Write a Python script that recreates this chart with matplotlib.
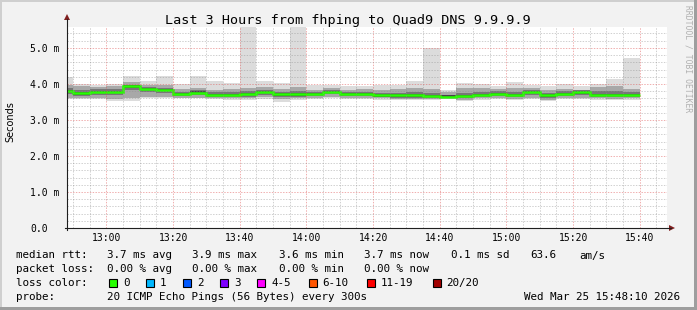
import matplotlib
matplotlib.use('Agg')
import matplotlib.pyplot as plt
import numpy as np
import pandas as pd
from matplotlib.patches import Rectangle, Polygon
from matplotlib.lines import Line2D

# ---------------- data ----------------
bin_end = pd.date_range('2026-03-25 12:50', periods=35, freq='5min')
median = [3.81, 3.74, 3.78, 3.78, 3.93, 3.86, 3.83, 3.72, 3.76, 3.70, 3.70, 3.72, 3.78, 3.71, 3.71, 3.72, 3.78,
          3.72, 3.72, 3.68, 3.68, 3.68, 3.67, 3.65, 3.67, 3.70, 3.73, 3.70, 3.78, 3.68, 3.73, 3.77, 3.70, 3.70, 3.70]
ping_max = [4.20, 4.00, 3.97, 4.00, 4.22, 4.08, 4.21, 4.00, 4.22, 4.08, 4.02, 5.58, 4.08, 4.02, 5.58, 3.97, 3.97,
            3.93, 3.93, 3.97, 3.96, 4.07, 5.01, 3.83, 4.02, 4.00, 3.93, 4.04, 3.97, 3.93, 4.00, 3.94, 4.00, 4.14, 4.73]
ping_min = [3.57, 3.57, 3.57, 3.53, 3.53, 3.60, 3.60, 3.60, 3.60, 3.57, 3.56, 3.56, 3.58, 3.51, 3.56, 3.58, 3.60,
            3.58, 3.58, 3.56, 3.54, 3.54, 3.55, 3.57, 3.52, 3.55, 3.58, 3.55, 3.58, 3.52, 3.58, 3.57, 3.56, 3.54, 3.56]
band2_hi = [3.98, 3.94, 3.92, 3.95, 4.04, 3.98, 3.97, 3.85, 3.90, 3.84, 3.85, 3.90, 3.92, 3.85, 3.92, 3.84, 3.88,
            3.84, 3.85, 3.82, 3.85, 3.90, 3.86, 3.78, 3.88, 3.90, 3.86, 3.90, 3.88, 3.82, 3.85, 3.84, 3.92, 3.93, 3.86]
band2_lo = [3.62, 3.60, 3.62, 3.58, 3.60, 3.65, 3.64, 3.62, 3.62, 3.60, 3.60, 3.60, 3.64, 3.58, 3.60, 3.62, 3.64,
            3.62, 3.62, 3.60, 3.58, 3.58, 3.58, 3.60, 3.56, 3.60, 3.62, 3.58, 3.62, 3.56, 3.62, 3.62, 3.60, 3.58, 3.60]
band3_hi = [3.88, 3.82, 3.85, 3.86, 3.98, 3.92, 3.90, 3.78, 3.83, 3.77, 3.78, 3.80, 3.84, 3.78, 3.80, 3.78, 3.83,
            3.78, 3.78, 3.75, 3.76, 3.78, 3.74, 3.70, 3.76, 3.78, 3.79, 3.78, 3.84, 3.74, 3.80, 3.82, 3.79, 3.80, 3.78]
band3_lo = [3.72, 3.67, 3.70, 3.68, 3.82, 3.78, 3.75, 3.66, 3.69, 3.64, 3.64, 3.65, 3.70, 3.64, 3.64, 3.66, 3.71,
            3.66, 3.66, 3.63, 3.62, 3.62, 3.61, 3.62, 3.61, 3.64, 3.67, 3.63, 3.70, 3.62, 3.67, 3.70, 3.64, 3.64, 3.64]
band4_hi = [3.84, 3.77, 3.81, 3.81, 3.96, 3.89, 3.86, 3.75, 3.79, 3.73, 3.73, 3.75, 3.81, 3.74, 3.74, 3.75, 3.81,
            3.75, 3.75, 3.71, 3.71, 3.71, 3.70, 3.68, 3.70, 3.73, 3.76, 3.73, 3.81, 3.71, 3.76, 3.80, 3.73, 3.73, 3.73]
band4_lo = [3.77, 3.70, 3.74, 3.74, 3.88, 3.82, 3.79, 3.68, 3.72, 3.66, 3.66, 3.68, 3.74, 3.67, 3.67, 3.68, 3.74,
            3.68, 3.68, 3.64, 3.64, 3.64, 3.63, 3.61, 3.63, 3.66, 3.69, 3.66, 3.74, 3.64, 3.69, 3.73, 3.66, 3.66, 3.66]

y_ticks = [0, 1, 2, 3, 4, 5]
y_tick_labels = ['0.0', '1.0 m', '2.0 m', '3.0 m', '4.0 m', '5.0 m']
x_tick_labels = ['13:00', '13:20', '13:40', '14:00', '14:20', '14:40', '15:00', '15:20', '15:40']

title = 'Last 3 Hours from fhping to Quad9 DNS 9.9.9.9'
rtt_line = ['median rtt:', '3.7 ms avg', '3.9 ms max', '3.6 ms min', '3.7 ms now', '0.1 ms sd', '63.6', 'am/s']
loss_line = ['packet loss:', '0.00 % avg', '0.00 % max', '0.00 % min', '0.00 % now']
loss_labels = ['0', '1', '2', '3', '4-5', '6-10', '11-19', '20/20']
loss_colors = ['#26ff00', '#00b8ff', '#0059ff', '#7e00ff', '#ff00ff', '#ff5500', '#ff0000', '#a10000']
probe_text = '20 ICMP Echo Pings (56 Bytes) every 300s'
stamp = 'Wed Mar 25 15:48:10 2026'

# ---------------- figure ----------------
W, H = 697, 310
fig = plt.figure(figsize=(W / 100, H / 100), dpi=100, facecolor='#f2f2f2')
MONO = 'DejaVu Sans Mono'

def fx(px):
    return px / W

def fy(py):
    return 1 - py / H

# frame shading
fig.add_artist(Rectangle((0, fy(2)), 1, 2 / H, transform=fig.transFigure, color='#cfcfcf', lw=0))
fig.add_artist(Rectangle((0, 0), 2 / W, 1, transform=fig.transFigure, color='#cfcfcf', lw=0))
fig.add_artist(Rectangle((0, 0), 1, 3 / H, transform=fig.transFigure, color='#9e9e9e', lw=0))
fig.add_artist(Rectangle((fx(W - 3), 0), 3 / W, 1, transform=fig.transFigure, color='#9e9e9e', lw=0))

L, R, T, B = 67, 667, 27, 228
ax = fig.add_axes([fx(L), fy(B), (R - L) / W, (B - T) / H])
ax.set_facecolor('white')
for s in ax.spines.values():
    s.set_visible(False)
ax.set_xticks([])
ax.set_yticks([])

t_end = 15 * 60 + 48 + 10 / 60
t_start = t_end - 180
ax.set_xlim(t_start, t_end)
ax.set_ylim(0, 5.58)

ends = np.array(bin_end.hour * 60 + bin_end.minute, dtype=float)
starts = ends - 5

layers = [(ping_min, ping_max, '#dcdcdc'), (band2_lo, band2_hi, '#a8a8a8'),
          (band3_lo, band3_hi, '#777777'), (band4_lo, band4_hi, '#454545')]
for lo, hi, c in layers:
    lo = np.array(lo)
    hi = np.array(hi)
    ax.bar(starts, hi - lo, width=5, bottom=lo, align='edge', color=c, lw=0, zorder=2)

edges = np.append(starts, ends[-1])
ax.stairs(median, edges, baseline=None, color='#26ff00', lw=1.8, zorder=3)

# grid (drawn over data, like rrdtool)
gcol = (0.56, 0.56, 0.56, 0.42)
mcol = (0.87, 0.31, 0.31, 0.45)
dash = (0, (1.4, 1.4))
for m in np.arange(770, 950, 5):
    if t_start < m < t_end and m % 20 != 0:
        ax.axvline(m, color=gcol, lw=0.72, ls=dash, zorder=4)
for m in np.arange(780, 950, 20):
    if t_start < m < t_end:
        ax.axvline(m, color=mcol, lw=0.72, ls=dash, zorder=4)
for v in np.arange(0.2, 5.58, 0.2):
    if abs(v - round(v)) > 1e-6:
        ax.axhline(v, color=gcol, lw=0.72, ls=dash, zorder=4)
for v in y_ticks[1:]:
    ax.axhline(v, color=mcol, lw=0.72, ls=dash, zorder=4)

# axes lines and arrows
axis_col = '#1f1f1f'
arrow_col = '#801f1f'
fig.add_artist(Line2D([fx(L), fx(L)], [fy(B + 2), fy(19)], transform=fig.transFigure, color=axis_col, lw=0.8))
fig.add_artist(Line2D([fx(L - 2), fx(671)], [fy(B), fy(B)], transform=fig.transFigure, color=axis_col, lw=0.8))
fig.add_artist(Polygon([[fx(L - 3), fy(20)], [fx(L + 3), fy(20)], [fx(L), fy(14)]], closed=True,
                       transform=fig.transFigure, color=arrow_col, lw=0))
fig.add_artist(Polygon([[fx(669), fy(B - 3)], [fx(669), fy(B + 3)], [fx(675), fy(B)]], closed=True,
                       transform=fig.transFigure, color=arrow_col, lw=0))

# y tick labels
for v, lab in zip(y_ticks, y_tick_labels):
    ypx = B - v * (B - T) / 5.58
    fig.text(fx(30), fy(ypx), lab, family=MONO, fontsize=7, ha='left', va='center_baseline')

# x tick labels
for i, lab in enumerate(x_tick_labels):
    m = 780 + 20 * i
    xpx = L + (m - t_start) / 180 * (R - L)
    fig.text(fx(xpx), fy(237), lab, family=MONO, fontsize=7, ha='center', va='center_baseline')

fig.text(fx(10), fy(122), 'Seconds', family='DejaVu Sans', fontsize=7, rotation=90, ha='center', va='center')
fig.text(fx(348), fy(24), title, family=MONO, fontsize=9.7, ha='center', va='baseline')
fig.text(fx(688), fy(5), 'RRDTOOL / TOBI OETIKER', family=MONO, fontsize=5.8, rotation=270,
         ha='center', va='top', color='#b0b0b0')

# legend
FS = 7.8
rtt_x = [16, 107, 192, 279, 364, 451, 530, 579]
for s, x in zip(rtt_line, rtt_x):
    fig.text(fx(x), fy(258.5), s, family=MONO, fontsize=FS, va='baseline')
loss_x = [16, 107, 192, 279, 364]
for s, x in zip(loss_line, loss_x):
    fig.text(fx(x), fy(272), s, family=MONO, fontsize=FS, va='baseline')
fig.text(fx(16), fy(286), 'loss color:', family=MONO, fontsize=FS, va='baseline')
x = 109
for lab, col in zip(loss_labels, loss_colors):
    fig.add_artist(Rectangle((fx(x), fy(287)), 8 / W, 8 / H, transform=fig.transFigure,
                             facecolor=col, edgecolor='black', lw=0.8))
    fig.text(fx(x + 14), fy(286), lab, family=MONO, fontsize=FS, va='baseline')
    x = x + 14 + len(lab) * 7.1 + 16
fig.text(fx(16), fy(300), 'probe:', family=MONO, fontsize=FS, va='baseline')
fig.text(fx(107), fy(300), probe_text, family=MONO, fontsize=FS, va='baseline')
fig.text(fx(680), fy(300), stamp, family=MONO, fontsize=FS, va='baseline', ha='right')

fig.savefig('out.png', dpi=100, facecolor=fig.get_facecolor())
